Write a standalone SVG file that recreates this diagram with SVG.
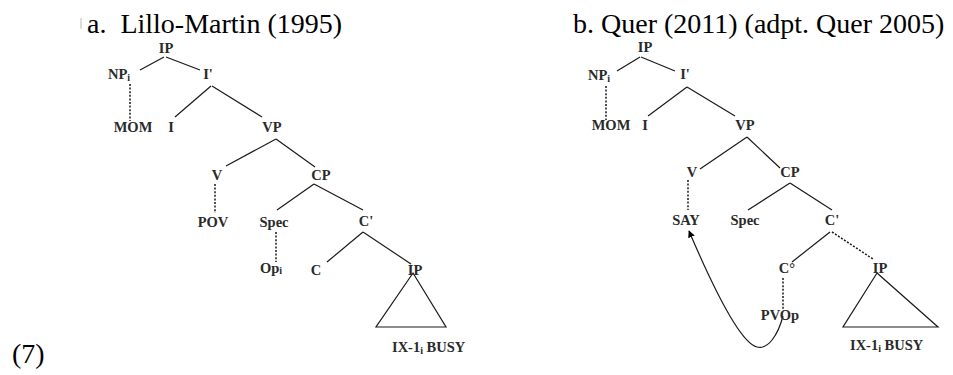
<svg xmlns="http://www.w3.org/2000/svg" width="953" height="375" viewBox="0 0 953 375">
<style>
.t{font-family:"Liberation Serif","Times New Roman",serif;font-size:28px;fill:#000}
.n{font-family:"Liberation Serif","Times New Roman",serif;font-size:14.5px;font-weight:bold;fill:#2a2a2a;text-anchor:middle}
.s{font-size:10px}
.e{stroke:#1a1a1a;stroke-width:1.2;fill:none}
.d{stroke:#1a1a1a;stroke-width:1.5;fill:none;stroke-dasharray:2,1.6}
</style>
<defs>
<marker id="ah" viewBox="0 0 10 10" refX="9" refY="5" markerWidth="7" markerHeight="7" orient="auto-start-reverse" markerUnits="userSpaceOnUse">
<path d="M0,0 L10,5 L0,10 z" fill="#000"/>
</marker>
</defs>
<rect width="953" height="375" fill="#fff"/>
<g id="titles">
<line x1="81" y1="18" x2="81" y2="29" stroke="#bbb" stroke-width="1"/>
<text class="t" x="87" y="33" xml:space="preserve">a.  Lillo-Martin (1995)</text>
<text class="t" x="573" y="33">b. Quer (2011) (adpt. Quer 2005)</text>
<text class="t" x="12" y="363">(7)</text>
</g>
<g id="connectors">
<!-- left tree -->
<line class="e" x1="164" y1="57" x2="140" y2="70"/>
<line class="e" x1="166" y1="57" x2="200" y2="70"/>
<line class="d" x1="130" y1="84" x2="130" y2="121"/>
<line class="e" x1="211" y1="86" x2="175" y2="117"/>
<line class="e" x1="212" y1="86" x2="262" y2="117"/>
<line class="e" x1="276" y1="139" x2="226" y2="166"/>
<line class="e" x1="276" y1="139" x2="315" y2="167"/>
<line class="d" x1="215" y1="184" x2="215" y2="213"/>
<line class="e" x1="314" y1="184" x2="277" y2="210"/>
<line class="e" x1="314" y1="184" x2="363" y2="210"/>
<line class="d" x1="276" y1="232" x2="276" y2="262"/>
<line class="e" x1="363" y1="232" x2="327" y2="262"/>
<line class="e" x1="363" y1="232" x2="411" y2="264"/>
<path class="e" d="M413,273 L376,327 L446,327 Z"/>
<!-- right tree -->
<line class="e" x1="640" y1="57" x2="617" y2="71"/>
<line class="e" x1="641" y1="57" x2="675" y2="71"/>
<line class="d" x1="606" y1="86" x2="606" y2="120"/>
<line class="e" x1="687" y1="87" x2="648" y2="116"/>
<line class="e" x1="687" y1="87" x2="735" y2="116"/>
<line class="e" x1="747" y1="137" x2="700" y2="169"/>
<line class="e" x1="747" y1="137" x2="780" y2="168"/>
<line class="d" x1="688" y1="180" x2="688" y2="210"/>
<line class="e" x1="790" y1="183" x2="748" y2="210"/>
<line class="e" x1="790" y1="183" x2="832" y2="210"/>
<line class="e" x1="830" y1="232" x2="792" y2="262"/>
<line class="d" x1="832" y1="232" x2="873" y2="259"/>
<line class="d" x1="783" y1="278" x2="783" y2="310"/>
<path class="e" d="M877,273 L843,327 L938,327 Z"/>
<path class="e" stroke-width="1.6" d="M783,316 C778,335 768,350 757,347 C740,343 712,285 689,231" marker-end="url(#ah)"/>
</g>
<g id="a-IP"><text class="n" x="166" y="53">IP</text></g>
<g id="a-NP"><text class="n" x="108" y="79" style="text-anchor:start">NP<tspan class="s" dy="2">i</tspan></text></g>
<g id="a-Ibar"><text class="n" x="208" y="79">I'</text></g>
<g id="a-MOM"><text class="n" x="133" y="132">MOM</text></g>
<g id="a-I"><text class="n" x="171" y="132">I</text></g>
<g id="a-VP"><text class="n" x="272" y="132">VP</text></g>
<g id="a-V"><text class="n" x="217" y="180">V</text></g>
<g id="a-CP"><text class="n" x="321" y="180">CP</text></g>
<g id="a-POV"><text class="n" x="213" y="227">POV</text></g>
<g id="a-Spec"><text class="n" x="274" y="227">Spec</text></g>
<g id="a-Cbar"><text class="n" x="366" y="226">C'</text></g>
<g id="a-Op"><text class="n" x="260" y="273" style="text-anchor:start">Op<tspan class="s" dy="1">i</tspan></text></g>
<g id="a-C"><text class="n" x="316" y="275">C</text></g>
<g id="a-IP2"><text class="n" x="415" y="275">IP</text></g>
<g id="a-busy"><text class="n" x="392" y="352" style="text-anchor:start">IX-1<tspan class="s" dy="2">i</tspan><tspan dy="-2">  BUSY</tspan></text></g>
<g id="b-IP"><text class="n" x="645" y="52">IP</text></g>
<g id="b-NP"><text class="n" x="588" y="80" style="text-anchor:start">NP<tspan class="s" dy="2">i</tspan></text></g>
<g id="b-Ibar"><text class="n" x="685" y="79">I'</text></g>
<g id="b-MOM"><text class="n" x="611" y="130">MOM</text></g>
<g id="b-I"><text class="n" x="645" y="130">I</text></g>
<g id="b-VP"><text class="n" x="745" y="130">VP</text></g>
<g id="b-V"><text class="n" x="692" y="177">V</text></g>
<g id="b-CP"><text class="n" x="790" y="177">CP</text></g>
<g id="b-SAY"><text class="n" x="686" y="225">SAY</text></g>
<g id="b-Spec"><text class="n" x="745" y="225">Spec</text></g>
<g id="b-Cbar"><text class="n" x="832" y="225">C'</text></g>
<g id="b-C0"><text class="n" x="787" y="273">C°</text></g>
<g id="b-IP2"><text class="n" x="880" y="273">IP</text></g>
<g id="b-PVOp"><text class="n" x="780" y="320">PVOp</text></g>
<g id="b-busy"><text class="n" x="850" y="350" style="text-anchor:start">IX-1<tspan class="s" dy="2">i</tspan><tspan dy="-2">  BUSY</tspan></text></g>
</svg>
